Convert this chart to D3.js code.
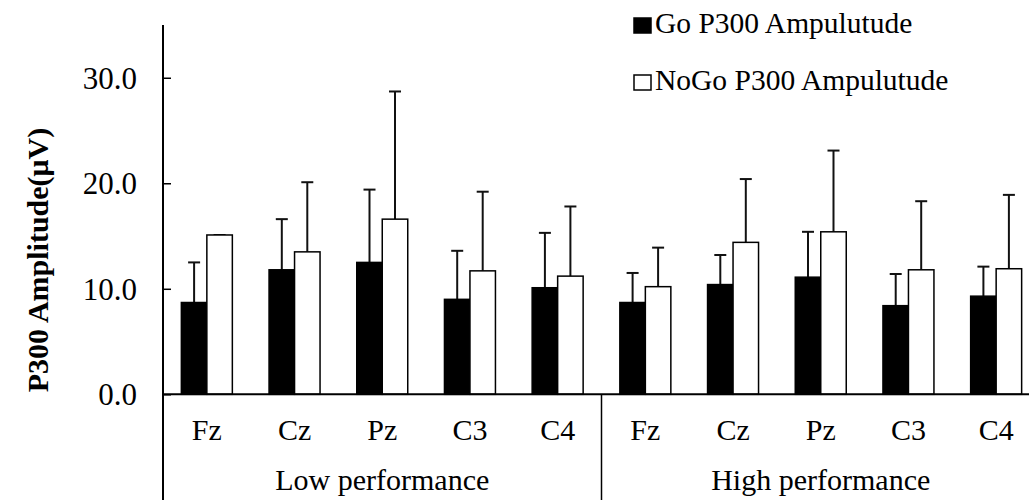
<!DOCTYPE html>
<html>
<head>
  <meta charset="utf-8">
  <script src="https://d3js.org/d3.v7.min.js"></script>
  <style>
    body { margin: 0; background: #fff; }
    text { font-family: "Liberation Serif", "Times New Roman", serif; fill: #000; }
  </style>
</head>
<body>
  <svg width="1029" height="500"></svg>

  <script>
    // values (means and SDs, microvolts)
    var groups = ["Low performance", "High performance"];
    var sites = ["Fz", "Cz", "Pz", "C3", "C4"];
    var series = ["Go P300 Ampulutude", "NoGo P300 Ampulutude"];
    var goMean = [8.7, 11.8, 12.5, 9.0, 10.1, 8.7, 10.4, 11.1, 8.4, 9.3];
    var goSD = [3.8, 4.8, 6.9, 4.6, 5.2, 2.8, 2.8, 4.3, 3.0, 2.8];
    var nogoMean = [15.1, 13.5, 16.6, 11.7, 11.2, 10.2, 14.4, 15.4, 11.8, 11.9];
    var nogoSD = [0, 6.6, 12.1, 7.5, 6.6, 3.7, 6.0, 7.7, 6.5, 7.0];
    var yTicks = [0, 10, 20, 30];

    var svg = d3.select("svg");

    var plotLeft = 163, plotBottom = 394.3, plotTop = 25;
    var plotRight = plotLeft + 10 * 87.7; // chart runs off the right edge

    // one entry per bar category
    var cats = [];
    groups.forEach(function(g, gi) {
      sites.forEach(function(s, si) {
        var i = gi * sites.length + si;
        cats.push({ key: g + "|" + s, site: s, group: g, i: i });
      });
    });

    var x0 = d3.scaleBand().domain(cats.map(d => d.key)).range([plotLeft, plotRight]).padding(0);
    var x1 = d3.scaleBand().domain(series).range([0, x0.bandwidth()]).paddingInner(0).paddingOuter(0.72);
    var y = d3.scaleLinear().domain([0, 35]).range([plotBottom, plotTop]);

    var bars = [];
    cats.forEach(function(c) {
      bars.push({ cat: c.key, s: series[0], v: goMean[c.i], sd: goSD[c.i], fill: "#000" });
      bars.push({ cat: c.key, s: series[1], v: nogoMean[c.i], sd: nogoSD[c.i], fill: "#fff" });
    });

    // error bars first (only upward half)
    var eb = svg.append("g").attr("stroke", "#111").attr("stroke-width", 2);
    bars.forEach(function(d) {
      var cx = x0(d.cat) + x1(d.s) + x1.bandwidth() / 2;
      eb.append("line").attr("x1", cx).attr("x2", cx).attr("y1", y(d.v)).attr("y2", y(d.v + d.sd));
      eb.append("line").attr("x1", cx - 6).attr("x2", cx + 6).attr("y1", y(d.v + d.sd)).attr("y2", y(d.v + d.sd));
    });

    svg.append("g").selectAll("rect")
      .data(bars)
      .enter()
      .append("rect")
      .attr("x", d => x0(d.cat) + x1(d.s))
      .attr("y", d => y(d.v))
      .attr("width", x1.bandwidth())
      .attr("height", d => plotBottom - y(d.v))
      .attr("fill", d => d.fill)
      .attr("stroke", "#000")
      .attr("stroke-width", 1.5);

    // y axis
    var yAxis = svg.append("g")
      .attr("transform", "translate(" + plotLeft + ",0)")
      .call(d3.axisRight(y).tickValues(yTicks).tickSize(8).tickFormat(""));
    yAxis.select(".domain").remove();
    yAxis.selectAll("line").attr("stroke", "#000").attr("stroke-width", 1.5);
    svg.append("line").attr("x1", plotLeft).attr("x2", plotLeft).attr("y1", plotTop).attr("y2", 500)
      .attr("stroke", "#000").attr("stroke-width", 2);

    svg.append("g").selectAll("text")
      .data(yTicks)
      .enter()
      .append("text")
      .attr("x", 137)
      .attr("y", d => y(d))
      .attr("dy", "0.35em")
      .attr("text-anchor", "end")
      .style("font-size", "31px")
      .text(d => d.toFixed(1));

    // x axis
    svg.append("line").attr("x1", plotLeft).attr("x2", plotRight).attr("y1", plotBottom).attr("y2", plotBottom)
      .attr("stroke", "#000").attr("stroke-width", 2);

    svg.append("g").selectAll("text")
      .data(cats)
      .enter()
      .append("text")
      .attr("x", d => x0(d.key) + x0.bandwidth() / 2)
      .attr("y", 440)
      .attr("text-anchor", "middle")
      .style("font-size", "30px")
      .text(d => d.site);

    // group divider and group labels
    var groupStart = x0(groups[1] + "|" + sites[0]);
    svg.append("line").attr("x1", groupStart).attr("x2", groupStart).attr("y1", plotBottom).attr("y2", 500)
      .attr("stroke", "#000").attr("stroke-width", 1.5);

    groups.forEach(function(g) {
      var a = x0(g + "|" + sites[0]);
      var b = x0(g + "|" + sites[sites.length - 1]) + x0.bandwidth();
      svg.append("text")
        .attr("x", (a + b) / 2)
        .attr("y", 490)
        .attr("text-anchor", "middle")
        .style("font-size", "30px")
        .text(g);
    });

    // y title
    svg.append("text")
      .attr("transform", "translate(48,260) rotate(-90)")
      .attr("text-anchor", "middle")
      .style("font-size", "30px")
      .style("font-weight", "bold")
      .text("P300 Amplitude(\u03bcV)");

    // legend
    var legend = svg.append("g");
    series.forEach(function(s, i) {
      var ly = 33 + i * 57;
      legend.append("rect")
        .attr("x", 634).attr("y", ly - 15)
        .attr("width", 17).attr("height", 15)
        .attr("fill", i === 0 ? "#000" : "#fff")
        .attr("stroke", "#000").attr("stroke-width", 1.5);
      legend.append("text")
        .attr("x", 655).attr("y", ly)
        .style("font-size", "29.5px")
        .text(s);
    });
  </script>
</body>
</html>
